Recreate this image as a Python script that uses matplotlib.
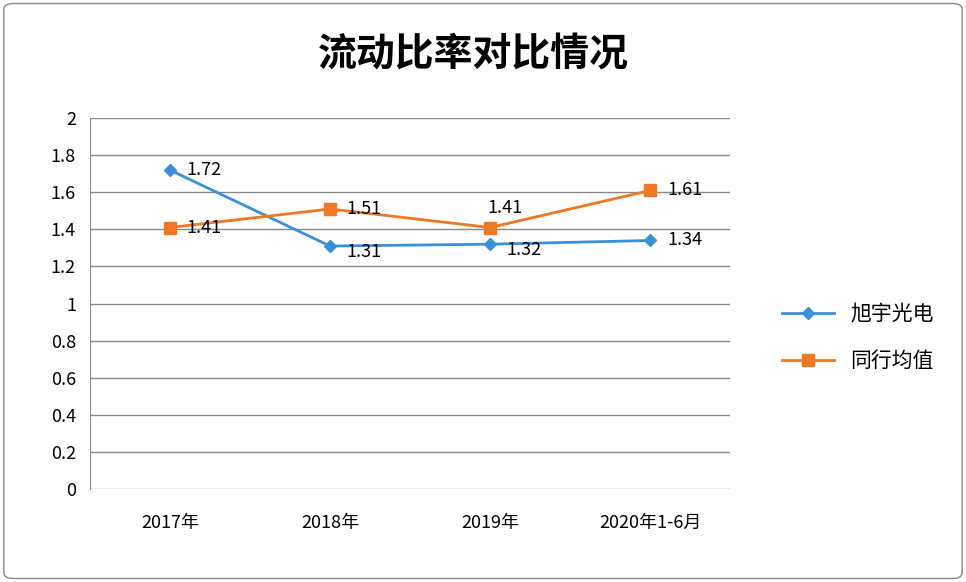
import matplotlib.pyplot as plt
from matplotlib.patches import FancyBboxPatch

plt.rcParams['font.family'] = ['Noto Sans CJK SC', 'DejaVu Sans']

categories = ['2017年', '2018年', '2019年', '2020年1-6月']
xuyu = [1.72, 1.31, 1.32, 1.34]
peers = [1.41, 1.51, 1.41, 1.61]
yticks = [0, 0.2, 0.4, 0.6, 0.8, 1, 1.2, 1.4, 1.6, 1.8, 2]

blue = '#3a8fd9'
orange = '#f07820'

fig = plt.figure(figsize=(9.66, 5.82), dpi=100)
fig.patches.append(FancyBboxPatch((0.004, 0.006), 0.992, 0.988, boxstyle='round,pad=0,rounding_size=0.01',
                                  transform=fig.transFigure, fill=False, edgecolor='#888888', lw=1))
ax = fig.add_axes([0.093, 0.160, 0.663, 0.637])
x = list(range(len(categories)))

ax.plot(x, xuyu, color=blue, lw=2, marker='D', markersize=6, label='旭宇光电', zorder=3)
ax.plot(x, peers, color=orange, lw=2, marker='s', markersize=9, label='同行均值', zorder=3)

offsets_b = [(12, 0), (12, -4), (12, -4), (12, 0)]
for xi, v, off in zip(x, xuyu, offsets_b):
    ax.annotate(f'{v:.2f}', (xi, v), xytext=off, textcoords='offset points',
                va='center', ha='left', fontsize=13)
offsets_o = [(12, 0), (12, 0), (-2, 14), (12, 0)]
for xi, v, off in zip(x, peers, offsets_o):
    ax.annotate(f'{v:.2f}', (xi, v), xytext=off, textcoords='offset points',
                va='center', ha='left', fontsize=13)

ax.set_xlim(-0.5, 3.5)
ax.set_ylim(0, 2)
ax.set_yticks(yticks)
ax.set_yticklabels([f'{t:g}' for t in yticks], fontsize=13)
ax.set_xticks(x)
ax.set_xticklabels(categories, fontsize=13)
ax.tick_params(length=0, pad=18, axis='x')
ax.tick_params(length=0, pad=10, axis='y')
ax.grid(axis='y', color='#888888', lw=1)
ax.set_axisbelow(True)
for s in ax.spines.values():
    s.set_visible(False)
ax.spines['left'].set_visible(True)
ax.spines['left'].set_color('#888888')

fig.text(0.49, 0.905, '流动比率对比情况', ha='center', va='center', fontsize=28, fontweight='bold')
fig.legend(loc='center left', bbox_to_anchor=(0.79, 0.42), frameon=False, fontsize=15,
           handlelength=2.5, labelspacing=1.2)
fig.savefig('out.png', dpi=100)
